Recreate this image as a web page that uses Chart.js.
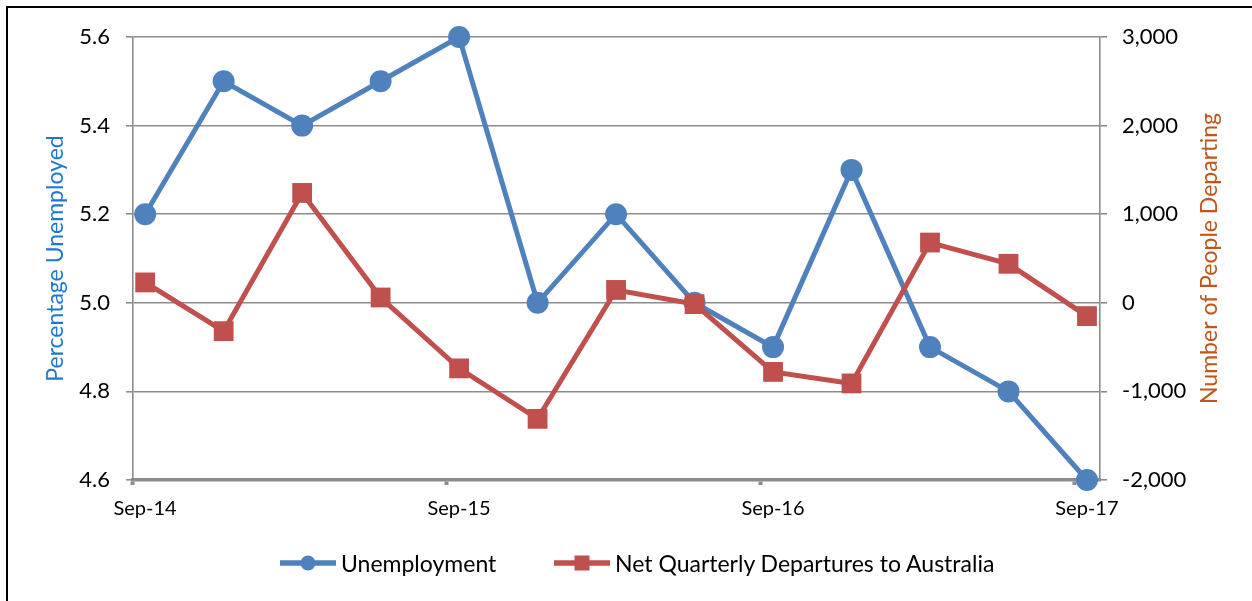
<!DOCTYPE html>
<html>
<head>
<meta charset="utf-8">
<script src="https://cdn.jsdelivr.net/npm/chart.js@4.4.0/dist/chart.umd.min.js"></script>
<style>
  html, body { margin: 0; padding: 0; background: #fff; overflow: hidden; }
  #wrap { position: relative; width: 1252px; height: 601px; overflow: hidden; }
  #frame { position: absolute; left: 6px; top: 6px; width: 1300px; height: 700px; border: 2px solid #000; box-sizing: border-box; }
  #chart { position: absolute; left: 0; top: 0; }
  .legend-item { position: absolute; top: 551px; height: 24px; display: flex; align-items: center;
                 font-family: Lato, sans-serif; font-size: 23px; color: #000; white-space: nowrap; }
  .legend-item svg { margin-right: 5px; }
</style>
</head>
<body>
<div id="wrap">
  <div id="frame"></div>
  <canvas id="chart" width="1252" height="601"></canvas>
  <div class="legend-item" style="left:280px">
    <svg width="56" height="22"><line x1="0" y1="11" x2="56" y2="11" stroke="#4f81bd" stroke-width="5.5"/><circle cx="28" cy="11" r="7.5" fill="#4f81bd"/></svg>
    <span>Unemployment</span>
  </div>
  <div class="legend-item" style="left:554px">
    <svg width="56" height="22"><line x1="0" y1="11" x2="56" y2="11" stroke="#c0504d" stroke-width="5.5"/><rect x="20.5" y="3.5" width="15" height="15" fill="#c0504d"/></svg>
    <span>Net Quarterly Departures to Australia</span>
  </div>
</div>
<script>
// quarterly series, Sep-14 .. Sep-17
var quarters = ["Sep-14", "Dec-14", "Mar-15", "Jun-15", "Sep-15", "Dec-15", "Mar-16",
                "Jun-16", "Sep-16", "Dec-16", "Mar-17", "Jun-17", "Sep-17"];
var unemployment = [5.2, 5.5, 5.4, 5.5, 5.6, 5.0, 5.2, 5.0, 4.9, 5.3, 4.9, 4.8, 4.6];
var departures = [230, -320, 1240, 60, -740, -1310, 145, -15, -780, -910, 680, 440, -150];
var yearLabels = ["Sep-14", "Sep-15", "Sep-16", "Sep-17"];
var unemploymentTicks = [4.6, 4.8, 5.0, 5.2, 5.4, 5.6];
var departureTicks = [-2000, -1000, 0, 1000, 2000, 3000];

var BLUE = "#4f81bd";
var RED = "#c0504d";
var GRID = "#8c8c8c";

// year ticks sit at the start of the month, a little before the quarter point
var tickShift = 0.16;

function toPoints(values) {
    return values.map(function (v, i) { return { x: i, y: v }; });
}

function drawTitle(ctx, text, color, x, y) {
    ctx.save();
    ctx.font = "23px Lato";
    ctx.textAlign = "center";
    ctx.textBaseline = "middle";
    ctx.fillStyle = color;
    ctx.translate(x, y);
    ctx.rotate(-Math.PI / 2);
    ctx.fillText(text, 0, 0);
    ctx.restore();
}

// axis titles: both read bottom-to-top
var axisTitles = {
    id: "axisTitles",
    afterDraw: function (chart) {
        var area = chart.chartArea;
        var midY = (area.top + area.bottom) / 2;
        drawTitle(chart.ctx, "Percentage Unemployed", "#1f77d0", 56, midY);
        drawTitle(chart.ctx, "Number of People Departing", "#c0561a", 1210, midY);
    }
};

Chart.defaults.font.family = "Lato";
Chart.defaults.font.size = 20;
Chart.defaults.color = "#000";

var ctx = document.getElementById("chart").getContext("2d");
new Chart(ctx, {
    type: "line",
    data: {
        datasets: [{
            label: "Net Quarterly Departures to Australia",
            data: toPoints(departures),
            yAxisID: "yRight",
            order: 0,
            clip: false,
            borderColor: RED,
            backgroundColor: RED,
            borderWidth: 5,
            pointStyle: "rect",
            pointRadius: 14,
            pointBorderWidth: 0,
            tension: 0
        }, {
            label: "Unemployment",
            data: toPoints(unemployment),
            yAxisID: "yLeft",
            order: 1,
            clip: false,
            borderColor: BLUE,
            backgroundColor: BLUE,
            borderWidth: 5,
            pointStyle: "circle",
            pointRadius: 11,
            pointBorderWidth: 0,
            tension: 0
        }]
    },
    options: {
        responsive: false,
        animation: false,
        layout: { padding: { top: 37, left: 0, right: 0, bottom: 0 } },
        plugins: {
            legend: { display: false },
            tooltip: { enabled: false }
        },
        scales: {
            x: {
                type: "linear",
                min: -0.155,
                max: 12.166,
                afterFit: function (scale) { scale.height = 121; },
                afterBuildTicks: function (scale) {
                    scale.ticks = yearLabels.map(function (label) {
                        return { value: quarters.indexOf(label) - tickShift };
                    });
                },
                ticks: {
                    callback: function (value, index) { return yearLabels[index]; },
                    labelOffset: 12.5,
                    padding: 12,
                    maxRotation: 0,
                    autoSkip: false
                },
                grid: {
                    drawOnChartArea: false,
                    drawTicks: true,
                    tickLength: 5,
                    tickWidth: 4,
                    tickColor: GRID
                },
                border: { color: GRID, width: 3.5 }
            },
            yLeft: {
                position: "left",
                min: 4.6,
                max: 5.6,
                afterFit: function (scale) { scale.width = 133; },
                afterBuildTicks: function (scale) {
                    scale.ticks = unemploymentTicks.map(function (v) { return { value: v }; });
                },
                ticks: {
                    callback: function (value) { return value.toFixed(1); },
                    font: { size: 22 },
                    padding: 16
                },
                grid: {
                    color: GRID,
                    lineWidth: 1.6,
                    tickLength: 7
                },
                border: { color: GRID, width: 1.6 }
            },
            yRight: {
                position: "right",
                min: -2000,
                max: 3000,
                afterFit: function (scale) { scale.width = 152; },
                afterBuildTicks: function (scale) {
                    scale.ticks = departureTicks.map(function (v) { return { value: v }; });
                },
                ticks: {
                    callback: function (value) { return value.toLocaleString("en-US"); },
                    font: { size: 22 },
                    padding: 15
                },
                grid: {
                    drawOnChartArea: false,
                    color: GRID,
                    lineWidth: 1.6,
                    tickLength: 7
                },
                border: { color: GRID, width: 1.6 }
            }
        }
    },
    plugins: [axisTitles]
});
</script>
</body>
</html>
